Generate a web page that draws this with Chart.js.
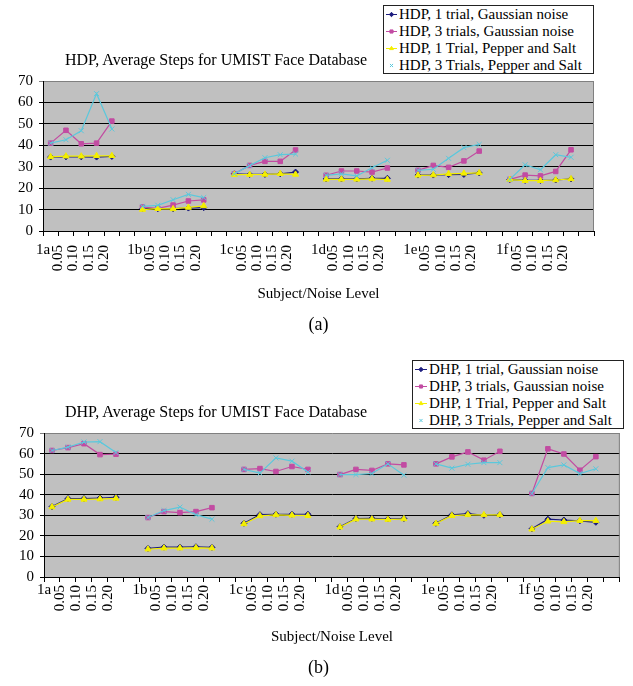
<!DOCTYPE html>
<html>
<head>
<meta charset="utf-8">
<title>Average Steps for UMIST Face Database</title>
<script src="https://cdn.jsdelivr.net/npm/chart.js@4.4.0/dist/chart.umd.min.js"></script>
<style>
    body { margin: 0; background: #fff; }
    #page { position: relative; width: 633px; height: 686px; overflow: hidden; font-family: "Liberation Serif", "Times New Roman", serif; color: #000; }
    #page canvas.chart { position: absolute; left: 0; }
    .title { position: absolute; font-size: 16px; line-height: 18px; white-space: nowrap; }
    .legend { position: absolute; box-sizing: border-box; border: 1px solid #222; background: #fff; padding-left: 2px; font-size: 15px; }
    .legend div { height: 17px; line-height: 17px; white-space: nowrap; }
    .legend canvas { vertical-align: middle; margin-right: 2px; position: relative; top: -1px; }
    .caption { position: absolute; left: 0; width: 637px; text-align: center; font-size: 18px; line-height: 20px; }
</style>
</head>
<body>
<div id="page">
    <canvas id="chartA" class="chart" width="633" height="345" style="top:0"></canvas>
    <div class="title" style="left:65px;top:51px">HDP, Average Steps for UMIST Face Database</div>
    <div class="legend" id="legendA" style="left:383px;top:5px;width:211px;height:69px"></div>
    <div class="caption" style="top:314px">(a)</div>

    <canvas id="chartB" class="chart" width="633" height="341" style="top:345px"></canvas>
    <div class="title" style="left:65px;top:403px">DHP, Average Steps for UMIST Face Database</div>
    <div class="legend" id="legendB" style="left:412px;top:360px;width:212px;height:69px"></div>
    <div class="caption" style="top:657px">(b)</div>
</div>

<script>
// x axis: one subject label followed by the noise levels, then an empty slot
var subjects = ["1a", "1b", "1c", "1d", "1e", "1f"];
var noiseLevels = ["0.05", "0.10", "0.15", "0.20"];

// HDP (a) - one row per subject, 5 points each
var hdpGauss1 = [
    [34.5, 34.6, 34.6, 34.5, 34.8],
    [10.4, 10.4, 10.4, 10.7, 10.9],
    [26.7, 26.4, 26.4, 26.7, 27.5],
    [24.3, 24.3, 24.3, 24.6, 24.6],
    [26.1, 26.1, 26.3, 26.4, 27.1],
    [24.0, 23.6, 23.6, 23.8, 24.3]
];
var hdpGauss3 = [
    [41.0, 47.0, 40.7, 41.0, 51.3],
    [11.2, 10.6, 12.1, 14.0, 14.5],
    [26.7, 30.6, 32.5, 32.5, 37.8],
    [26.0, 28.0, 28.0, 27.5, 29.4],
    [28.3, 30.6, 29.7, 32.7, 37.3],
    [24.1, 26.1, 25.7, 27.8, 37.9]
];
var hdpSalt1 = [
    [34.6, 34.9, 34.9, 35.1, 35.1],
    [10.0, 10.4, 10.3, 11.0, 11.7],
    [26.3, 26.3, 26.4, 26.7, 26.4],
    [24.1, 24.1, 24.1, 24.3, 24.0],
    [26.0, 26.1, 26.7, 26.9, 27.1],
    [24.0, 23.5, 23.5, 23.8, 24.3]
];
var hdpSalt3 = [
    [41.0, 42.6, 46.8, 64.1, 47.6],
    [11.5, 12.0, 14.6, 17.1, 15.6],
    [26.7, 30.5, 34.2, 35.6, 35.9],
    [26.0, 26.7, 25.7, 29.5, 33.0],
    [28.3, 28.8, 33.9, 38.9, 40.4],
    [24.1, 30.9, 28.6, 35.6, 34.4]
];

// DHP (b)
var dhpGauss1 = [
    [34.2, 38.1, 38.1, 38.4, 38.7],
    [13.9, 14.5, 14.5, 14.7, 14.4],
    [26.1, 30.3, 30.5, 30.5, 30.5],
    [24.4, 28.4, 28.5, 28.2, 28.4],
    [26.1, 30.2, 30.8, 30.0, 30.3],
    [23.4, 28.1, 27.7, 27.3, 26.6]
];
var dhpGauss3 = [
    [61.5, 62.9, 64.8, 59.5, 59.7],
    [28.9, 31.8, 31.3, 31.8, 33.7],
    [52.3, 52.7, 51.3, 53.7, 52.3],
    [49.8, 52.3, 51.8, 55.0, 54.5],
    [55.0, 58.4, 60.8, 56.8, 61.1],
    [40.6, 62.3, 59.8, 51.9, 58.5]
];
var dhpSalt1 = [
    [34.0, 37.7, 37.7, 37.9, 38.2],
    [13.5, 14.0, 14.0, 14.2, 14.0],
    [25.8, 29.7, 30.2, 30.0, 29.8],
    [24.2, 28.1, 28.1, 27.9, 28.2],
    [26.0, 29.8, 30.2, 30.2, 30.2],
    [23.2, 27.1, 26.8, 27.4, 27.4]
];
var dhpSalt3 = [
    [61.5, 63.1, 65.6, 65.8, 60.5],
    [28.9, 32.3, 34.0, 30.3, 28.1],
    [52.3, 50.5, 57.9, 56.3, 51.0],
    [49.8, 49.8, 50.3, 55.0, 49.5],
    [55.0, 52.9, 54.8, 55.6, 55.6],
    [40.6, 53.2, 54.5, 50.3, 52.6]
];

var hdpNames = ["HDP, 1 trial, Gaussian noise", "HDP, 3 trials, Gaussian noise",
    "HDP, 1 Trial, Pepper and Salt", "HDP, 3 Trials, Pepper and Salt"];
var dhpNames = ["DHP, 1 trial, Gaussian noise", "DHP, 3 trials, Gaussian noise",
    "DHP, 1 Trial, Pepper and Salt", "DHP, 3 Trials, Pepper and Salt"];

var serif = "'Liberation Serif', 'Times New Roman', serif";

var seriesStyles = [
    {color: "#1c1c7e", pointStyle: "rectRot", radius: 3},
    {color: "#c24ca2", pointStyle: "rect", radius: 3.2},
    {color: "#f4ef00", pointStyle: "triangle", radius: 3.5},
    {color: "#5bc8dc", pointStyle: "crossRot", radius: 3.5}
];

var labels = [];
subjects.forEach(function (s) {
    labels = labels.concat([s], noiseLevels, [""]);
});

// 5 values per subject + a null so the line breaks between subjects
var flatten = function (rows) {
    var out = [];
    rows.forEach(function (row) {
        out = out.concat(row, [null]);
    });
    return out;
};

var plotArea = {
    id: "plotArea",
    beforeDraw: function (chart) {
        var a = chart.chartArea, ctx = chart.ctx;
        ctx.save();
        ctx.fillStyle = "#c0c0c0";
        ctx.fillRect(a.left, a.top, a.right - a.left, a.bottom - a.top);
        ctx.restore();
    },
    beforeDatasetsDraw: function (chart) {
        var a = chart.chartArea, ctx = chart.ctx;
        ctx.save();
        ctx.strokeStyle = "#808080";
        ctx.lineWidth = 1;
        ctx.beginPath();
        ctx.moveTo(a.right - 0.5, a.top);
        ctx.lineTo(a.right - 0.5, a.bottom);
        ctx.stroke();
        ctx.restore();
    }
};

// subject names (1a, 1b ...) are written flat, the noise levels are rotated ticks
var subjectLabels = {
    id: "subjectLabels",
    afterDraw: function (chart) {
        var scale = chart.scales.x, ctx = chart.ctx;
        var half = (scale.getPixelForTick(1) - scale.getPixelForTick(0)) / 2;
        var y = scale.top + scale.options.grid.tickLength + scale.options.ticks.padding - 2;
        ctx.save();
        ctx.font = "15px " + serif;
        ctx.fillStyle = "#000";
        ctx.textAlign = "center";
        ctx.textBaseline = "top";
        labels.forEach(function (lab, i) {
            if (subjects.indexOf(lab) >= 0) {
                ctx.fillText(lab, scale.getPixelForTick(i) - half, y);
            }
        });
        ctx.restore();
    }
};

var makeChart = function (canvasId, names, series, box) {
    var datasets = series.map(function (rows, i) {
        var st = seriesStyles[i];
        return {
            label: names[i],
            data: flatten(rows),
            borderColor: st.color,
            backgroundColor: st.color,
            borderWidth: 1.2,
            pointStyle: st.pointStyle,
            pointRadius: st.radius,
            pointBorderWidth: 1,
            pointBackgroundColor: st.color,
            pointBorderColor: st.color,
            tension: 0,
            order: 3 - i
        };
    });

    return new Chart(document.getElementById(canvasId), {
        type: "line",
        data: {labels: labels, datasets: datasets},
        plugins: [plotArea, subjectLabels],
        options: {
            responsive: false,
            animation: false,
            events: [],
            layout: {padding: {top: box.top, right: box.right, left: 0, bottom: 0}},
            plugins: {
                legend: {display: false},
                tooltip: {enabled: false}
            },
            scales: {
                x: {
                    offset: true,
                    grid: {offset: true, drawOnChartArea: false, color: "#000", tickLength: 5},
                    border: {color: "#000"},
                    ticks: {
                        autoSkip: false,
                        minRotation: 90,
                        maxRotation: 90,
                        labelOffset: -8,
                        padding: box.tickPad,
                        color: "#000",
                        font: {family: serif, size: 15},
                        callback: function (value, index) {
                            return noiseLevels.indexOf(labels[index]) >= 0 ? labels[index] : "";
                        }
                    },
                    title: {
                        display: true,
                        text: "Subject/Noise Level",
                        color: "#000",
                        font: {family: serif, size: 15, lineHeight: 1.2},
                        padding: {top: 0, bottom: box.titlePad}
                    },
                    afterFit: function (scale) {
                        scale.height = box.xHeight;
                    }
                },
                y: {
                    min: 0,
                    max: 70,
                    ticks: {stepSize: 10, autoSkip: false, padding: 6, color: "#000", font: {family: serif, size: 15}},
                    grid: {
                        tickLength: 4,
                        color: function (c) {
                            return c.tick && c.tick.value === 70 ? "#808080" : "#000";
                        }
                    },
                    border: {color: "#000"},
                    afterFit: function (scale) {
                        scale.width = box.yWidth;
                    }
                }
            }
        }
    });
};

// legend built from the chart's own datasets
var buildLegend = function (chart, elId, markW) {
    var el = document.getElementById(elId);
    chart.data.datasets.forEach(function (ds) {
        var row = document.createElement("div");
        var c = document.createElement("canvas");
        c.width = markW;
        c.height = 9;
        var ctx = c.getContext("2d");
        ctx.strokeStyle = ds.borderColor;
        ctx.fillStyle = ds.borderColor;
        ctx.lineWidth = 1;
        if (ds.pointStyle !== "crossRot") {
            ctx.beginPath();
            ctx.moveTo(0, 4.5);
            ctx.lineTo(markW, 4.5);
            ctx.stroke();
        }
        Chart.helpers.drawPoint(ctx, {pointStyle: ds.pointStyle, radius: 2.2, borderWidth: 1, rotation: 0}, markW / 2, 4.5);
        row.appendChild(c);
        row.appendChild(document.createTextNode(ds.label));
        el.appendChild(row);
    });
};

var chartA = makeChart("chartA", hdpNames, [hdpGauss1, hdpGauss3, hdpSalt1, hdpSalt3],
    {top: 81, right: 39, yWidth: 43, xHeight: 114, tickPad: 9, titlePad: 42});
var chartB = makeChart("chartB", dhpNames, [dhpGauss1, dhpGauss3, dhpSalt1, dhpSalt3],
    {top: 88, right: 10, yWidth: 44, xHeight: 109, tickPad: 3, titlePad: 40});

buildLegend(chartA, "legendA", 11);
buildLegend(chartB, "legendB", 12);
</script>
</body>
</html>
